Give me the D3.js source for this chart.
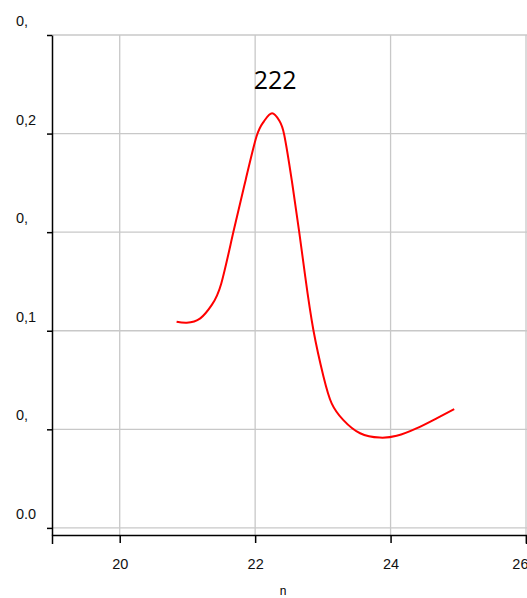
<!DOCTYPE html>
<html>
<head>
<meta charset="utf-8">
<script src="https://cdn.jsdelivr.net/npm/d3@7"></script>
<style>
  body { margin: 0; background: #fff; }
  svg { display: block; font-family: "Liberation Sans", Arial, sans-serif; }
</style>
</head>
<body>
<svg id="chart" width="527" height="598"></svg>
<script>
var width = 527, height = 598;

// data
var xValues = [20.84, 20.99, 21.19, 21.36, 21.50, 21.68, 21.86, 22.02, 22.13, 22.25, 22.36, 22.43,
               22.54, 22.65, 22.74, 22.86, 23.01, 23.13, 23.30, 23.55, 23.84, 24.09, 24.39, 24.68, 24.94];
var yValues = [0.1046, 0.1041, 0.1063, 0.1131, 0.1240, 0.1503, 0.1765, 0.1985, 0.2062, 0.2103, 0.2064, 0.1993,
               0.1765, 0.1503, 0.1274, 0.1004, 0.0767, 0.0632, 0.0548, 0.0480, 0.0458, 0.0467, 0.0506, 0.0556, 0.0602];
var xTicks = [20, 22, 24, 26];
var yTicks = [0.25, 0.2, 0.15, 0.1, 0.05, 0];
var yTickLabels = ["0,", "0,2", "0,", "0,1", "0,", "0.0"];
var peakLabel = "222";
var xTitle = "n";

var margin = {top: 35, right: 1, bottom: 63, left: 52};

var x = d3.scaleLinear().domain([19, 26]).range([margin.left, 526]);
var y = d3.scaleLinear().domain([-0.0036, 0.25]).range([height - margin.bottom, margin.top]);

var svg = d3.select("#chart");

// grid
svg.append("g")
    .selectAll("line")
    .data(yTicks)
    .enter().append("line")
    .attr("x1", margin.left)
    .attr("x2", width)
    .attr("y1", function(d) { return y(d); })
    .attr("y2", function(d) { return y(d); })
    .attr("stroke", "#c8c8c8")
    .attr("stroke-width", 1.3);

svg.append("g")
    .selectAll("line")
    .data(xTicks)
    .enter().append("line")
    .attr("x1", function(d) { return x(d); })
    .attr("x2", function(d) { return x(d); })
    .attr("y1", y(0.25))
    .attr("y2", y.range()[0])
    .attr("stroke", "#c8c8c8")
    .attr("stroke-width", 1.3);

// x axis
var xAxis = svg.append("g")
    .attr("transform", "translate(0," + y.range()[0] + ")")
    .call(d3.axisBottom(x).tickValues(xTicks).tickFormat(d3.format("d"))
        .tickSize(8).tickSizeOuter(9).tickPadding(15.5));
xAxis.select(".domain").attr("stroke", "#000").attr("stroke-width", 1.5);
xAxis.selectAll(".tick line").attr("stroke-width", 1.5);
xAxis.selectAll("text").attr("font-size", 14.5).attr("fill", "#111").attr("font-family", "Liberation Sans, Arial, sans-serif");
// last label sits against the right edge
xAxis.selectAll(".tick text").filter(function(d) { return d === 26; })
    .attr("text-anchor", "end").attr("x", width - x(26) + 1);

// y axis
var yAxis = svg.append("g")
    .attr("transform", "translate(" + margin.left + ",0)")
    .call(d3.axisLeft(y).tickValues(yTicks).tickSize(5).tickSizeOuter(0).tickFormat(""));
yAxis.select(".domain").attr("stroke", "#000").attr("stroke-width", 1.5);
yAxis.selectAll(".tick line").attr("stroke-width", 1.5);

svg.append("g")
    .selectAll("text")
    .data(yTicks)
    .enter().append("text")
    .attr("x", 16)
    .attr("y", function(d) { return y(d) - 9; })
    .attr("font-size", 14.5)
    .attr("fill", "#111")
    .text(function(d, i) { return yTickLabels[i]; });

// x title
svg.append("text")
    .attr("x", 283)
    .attr("y", 595)
    .attr("text-anchor", "middle")
    .attr("font-size", 12)
    .attr("fill", "#000")
    .text(xTitle);

// curve
var pts = xValues.map(function(d, i) { return [d, yValues[i]]; });
var line = d3.line()
    .x(function(d) { return x(d[0]); })
    .y(function(d) { return y(d[1]); })
    .curve(d3.curveNatural);

svg.append("path")
    .datum(pts)
    .attr("d", line)
    .attr("fill", "none")
    .attr("stroke", "#ff0000")
    .attr("stroke-width", 2);

// peak label
var peak = pts.reduce(function(a, b) { return b[1] > a[1] ? b : a; });
svg.append("text")
    .attr("x", x(peak[0]) + 3)
    .attr("y", y(peak[1]) - 24)
    .attr("text-anchor", "middle")
    .attr("font-family", "Open Sans, sans-serif")
    .attr("font-size", 25)
    .text(peakLabel);
</script>
</body>
</html>
